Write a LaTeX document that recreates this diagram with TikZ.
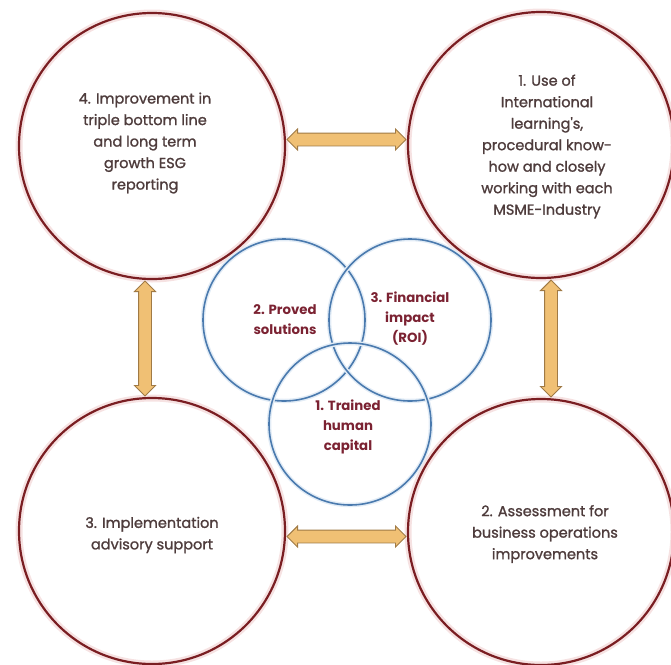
\documentclass[tikz,border=0pt]{standalone}
\usepackage{fontspec}
\setmainfont{Poppins}
\newfontfamily\stagefont[FakeBold=1.3]{Poppins}
\usetikzlibrary{shapes.arrows,calc}
\definecolor{ringred}{HTML}{7A1E22}
\definecolor{ringglow}{HTML}{F6E2E2}
\definecolor{vennblue}{HTML}{4A7AAE}
\definecolor{vennglow}{HTML}{E2ECF6}
\definecolor{arrowfill}{HTML}{F0C074}
\definecolor{arrowedge}{HTML}{A07A45}
\definecolor{bodytext}{HTML}{4E3C3C}
\definecolor{venntext}{HTML}{7B2232}
\begin{document}
\begin{tikzpicture}[x=1pt,y=-1pt,
  ring/.style={circle, draw=ringred, line width=2.2pt, minimum size=266pt, inner sep=0pt,
    preaction={draw=ringglow, line width=7pt}},
  venn/.style={circle, draw=vennblue, line width=1.6pt, minimum size=162pt, inner sep=0pt,
    preaction={draw=vennglow, line width=4.5pt}},
  ringtext/.style={align=center, text=bodytext, font=\stagefont\fontsize{14.5}{21.5}\selectfont},
  venntext/.style={align=center, text=venntext, font=\fontsize{13.3}{20}\selectfont\bfseries},
  dblarrow/.style={double arrow, fill=arrowfill, draw=arrowedge, line width=0.9pt,
    inner xsep=0pt, inner ysep=6pt, double arrow head extend=4pt, double arrow tip angle=90}]
\useasboundingbox (0,0) rectangle (671,664);

% four outer process stages
\node[ring] (s4) at (152,146) {};
\node[ring] (s1) at (541,145) {};
\node[ring] (s3) at (152,531) {};
\node[ring] (s2) at (541,532) {};

\node[ringtext] (t4) at (145,143) {4. Improvement in\\triple bottom line\\and long term\\growth ESG\\reporting};
\node[ringtext] (t1) at (547,146.5) {1. Use of\\International\\learning's,\\procedural know-\\how and closely\\working with each\\MSME-Industry};
\node[ringtext] (t3) at (152,535) {3. Implementation\\advisory support};
\node[ringtext] (t2) at (545,534) {2. Assessment for\\business operations\\improvements};

% central overlapping pillars
\node[venn] (vp) at (284,320) {};
\node[venn] (vf) at (410,320) {};
\node[venn] (vh) at (350,424) {};
\node[venntext] (tp) at (285,320) {2. Proved\\solutions};
\node[venntext] (tf) at (410,319) {3. Financial\\impact\\(ROI)};
\node[venntext] (th) at (348,427) {1. Trained\\human\\capital};

% two-way links between neighbouring stages
\path let \p1=(s4.east), \p2=(s1.west) in
  node[dblarrow, minimum height={\x2-\x1-2pt}] (a41) at ($(\p1)!.5!(\p2)+(0,-6)$) {};
\path let \p1=(s3.east), \p2=(s2.west) in
  node[dblarrow, minimum height={\x2-\x1-2pt}] (a32) at ($(\p1)!.5!(\p2)+(0,5)$) {};
\path let \p1=(s4.south), \p2=(s3.north) in
  node[dblarrow, rotate=90, minimum height={\y1-\y2-2pt}] (a43) at ($(\p1)!.5!(\p2)+(-7,0)$) {};
\path let \p1=(s1.south), \p2=(s2.north) in
  node[dblarrow, rotate=90, minimum height={\y1-\y2-2pt}] (a12) at ($(\p1)!.5!(\p2)+(10,0)$) {};
\end{tikzpicture}
\end{document}
